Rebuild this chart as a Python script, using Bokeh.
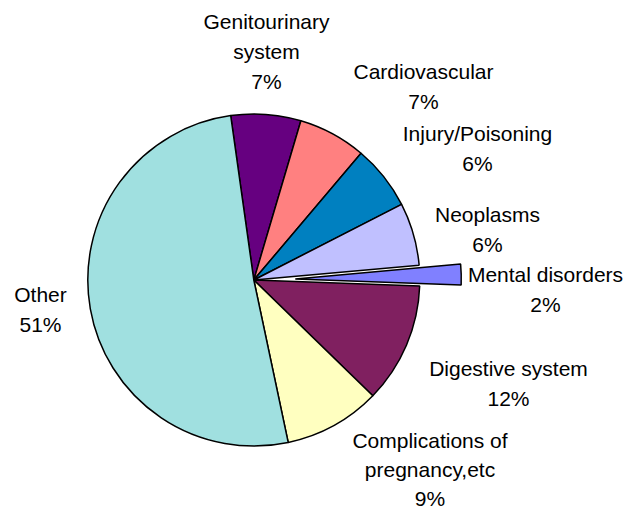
import numpy as np
from bokeh.plotting import figure
from bokeh.models import Range1d, ColumnDataSource
from bokeh.core.properties import value
from bokeh.embed import file_html
from bokeh.resources import INLINE

# ---- data (clockwise from the top, starting with Genitourinary) ----
categories = ["Genitourinary system", "Cardiovascular", "Injury/Poisoning", "Neoplasms",
              "Mental disorders", "Digestive system", "Complications of pregnancy,etc", "Other"]
label_lines = [["Genitourinary", "system"], ["Cardiovascular"], ["Injury/Poisoning"], ["Neoplasms"],
               ["Mental disorders"], ["Digestive system"], ["Complications of", "pregnancy,etc"], ["Other"]]
shares = [6.8, 6.6, 6.3, 6.1, 2.0, 11.7, 9.4, 51.1]

# ---- style / layout ----
colors = ["#660080", "#FF8080", "#0080C0", "#C0C0FF", "#8080FF", "#802060", "#FFFFC0", "#A0E0E0"]
explode = [0, 0, 0, 0, 0.25, 0, 0, 0]
# picture px of each label's first-line baseline centre, and line gap
label_pos = [(266, 28.5), (423, 78.5), (477, 140.5), (487, 221.7),
             (545, 282.3), (508, 376), (429.5, 448), (40, 302.3)]
label_gap = [30, 30.5, 30, 30.5, 29.5, 30, 29, 29.5]
text_dy = -8              # correction for the rendered baseline
W, H = 625, 511
cx_pic, cy_pic, R = 253.3, 279.5, 166
start_deg = -8.0          # clockwise from 12 o'clock

def py(y):  # picture y -> data y
    return H - y

vals = np.array(shares, dtype=float)
frac = vals / vals.sum()
cum = np.concatenate([[0], np.cumsum(frac)])
theta_s = np.radians(start_deg + 360 * cum[:-1])
theta_e = np.radians(start_deg + 360 * cum[1:])
theta_m = (theta_s + theta_e) / 2
ex = np.array(explode) * R
cx, cy = cx_pic, py(cy_pic)
xs = cx + ex * np.sin(theta_m)
ys = cy + ex * np.cos(theta_m)

src = ColumnDataSource(dict(x=xs, y=ys, start=np.pi / 2 - theta_s, end=np.pi / 2 - theta_e,
                            color=colors, name=categories))

p = figure(width=W, height=H, output_backend="svg", toolbar_location=None,
           x_range=Range1d(0, W), y_range=Range1d(0, H),
           x_axis_type=None, y_axis_type=None, min_border=0)
p.grid.visible = False
p.outline_line_color = None
p.background_fill_color = "white"
p.border_fill_color = "white"

p.wedge(x="x", y="y", radius=R, start_angle="start", end_angle="end", direction="clock",
        fill_color="color", line_color="black", line_width=1.5, source=src)

tx, ty, tt = [], [], []
for lines, v, (lx, ly), g in zip(label_lines, shares, label_pos, label_gap):
    allines = lines + [f"{round(v)}%"]
    for i, t in enumerate(allines):
        tx.append(lx)
        ty.append(py(ly + i * g + text_dy))
        tt.append(t)
p.text(x=tx, y=ty, text=tt, text_align="center", text_baseline="alphabetic",
       text_font=value("Liberation Sans"), text_font_size="21px", text_color="black")

open("out.html", "w").write(file_html(p, INLINE))
